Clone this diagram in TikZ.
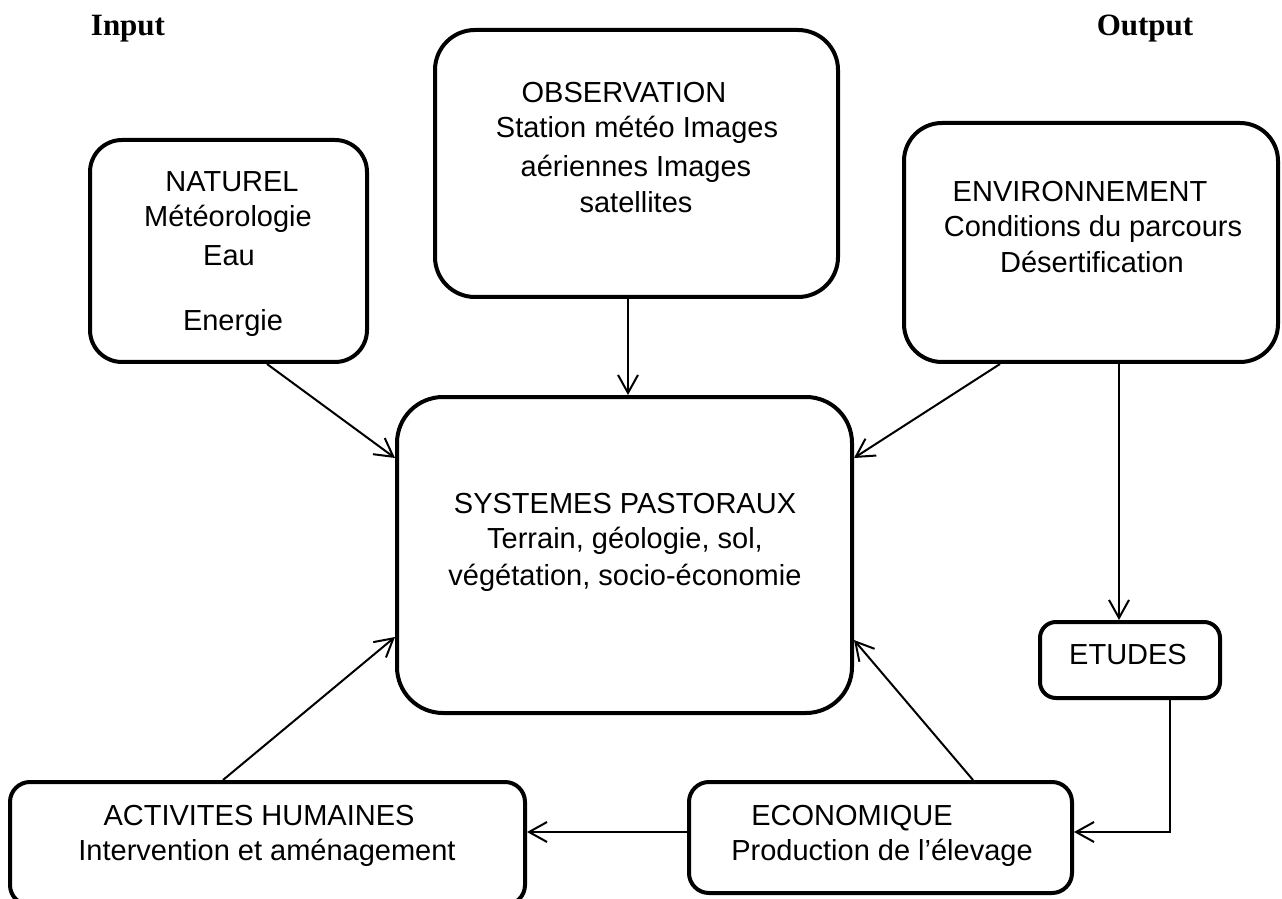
\documentclass[tikz,border=0pt]{standalone}
\usepackage{fontspec}
\setmainfont{Liberation Serif}
\newfontfamily\arialf{Liberation Sans}
\usetikzlibrary{arrows.meta,calc}
\begin{document}
\begin{tikzpicture}[x=0.5pt,y=-0.5pt,
  box/.style={draw, line width=2pt, inner sep=0pt},
  txt/.style={anchor=base, inner sep=0pt, font=\arialf\fontsize{14.5}{17}\selectfont},
  head/.style={anchor=base, inner sep=0pt, font=\bfseries\fontsize{15.5}{18}\selectfont},
  arr/.style={line width=1pt, -{Straight Barb[length=9pt,width=10pt]}}]
\useasboundingbox (0,0) rectangle (1282,899);
% boxes
\node[box, rounded corners=16pt, minimum width=138.5pt, minimum height=111pt] (nat) at (228.5,251) {};
\node[box, rounded corners=20pt, minimum width=201.5pt, minimum height=133.5pt] (obs) at (636.5,163.5) {};
\node[box, rounded corners=19pt, minimum width=187pt, minimum height=119.5pt] (env) at (1091,242.5) {};
\node[box, rounded corners=23pt, minimum width=227.5pt, minimum height=158pt] (sys) at (624.5,555) {};
\node[box, rounded corners=8pt, minimum width=90pt, minimum height=38pt] (etu) at (1130,660) {};
\node[box, rounded corners=10pt, minimum width=191.5pt, minimum height=55.5pt] (eco) at (880.5,837.5) {};
\node[box, rounded corners=10pt, minimum width=257.5pt, minimum height=61.5pt] (act) at (267.5,843.5) {};
% headings
\node[head] (hin) at (128,36) {Input};
\node[head] (hout) at (1145,36) {Output};
% texts
\node[txt] (n1) at (232,192) {NATUREL};
\node[txt] (n2) at (228,227) {Météorologie};
\node[txt] (n3) at (229,265) {Eau};
\node[txt] (n4) at (233,330) {Energie};
\node[txt] (o1) at (624,103) {OBSERVATION};
\node[txt] (o2) at (637,138) {Station météo Images};
\node[txt] (o3) at (636,177) {aériennes Images};
\node[txt] (o4) at (636,213) {satellites};
\node[txt] (e1) at (1080,202) {ENVIRONNEMENT};
\node[txt] (e2) at (1093,237) {Conditions du parcours};
\node[txt] (e3) at (1092,273) {Désertification};
\node[txt] (s1) at (625,513) {SYSTEMES PASTORAUX};
\node[txt] (s2) at (625,548) {Terrain, géologie, sol,};
\node[txt] (s3) at (625,585) {végétation, socio-économie};
\node[txt] (u1) at (1128,664) {ETUDES};
\node[txt] (c1) at (852,825) {ECONOMIQUE};
\node[txt] (c2) at (882,860) {Production de l’élevage};
\node[txt] (a1) at (259,825) {ACTIVITES HUMAINES};
\node[txt] (a2) at (267,860) {Intervention et aménagement};
% connectors
\draw[arr] ($(nat.south)+(38.5,0)$) -- ($(sys.west)+(0,-97)$);
\draw[arr] ($(obs.south)+(-8.5,0)$) -- ($(sys.north)+(3.5,0)$);
\draw[arr] ($(env.south)+(-91,0)$) -- ($(sys.east)+(0,-97)$);
\draw[arr] ($(env.south)+(28,0)$) -- ($(etu.north)+(-11,0)$);
\draw[arr] ($(etu.south)+(40,0)$) |- ($(eco.east)+(0,-5.5)$);
\draw[arr] ($(eco.west)+(0,-5.5)$) -- ($(act.east)+(0,-11.5)$);
\draw[arr] ($(act.north)+(-44.5,0)$) -- ($(sys.west)+(0,82)$);
\draw[arr] ($(eco.north)+(92.5,0)$) -- ($(sys.east)+(0,85)$);
\end{tikzpicture}
\end{document}
